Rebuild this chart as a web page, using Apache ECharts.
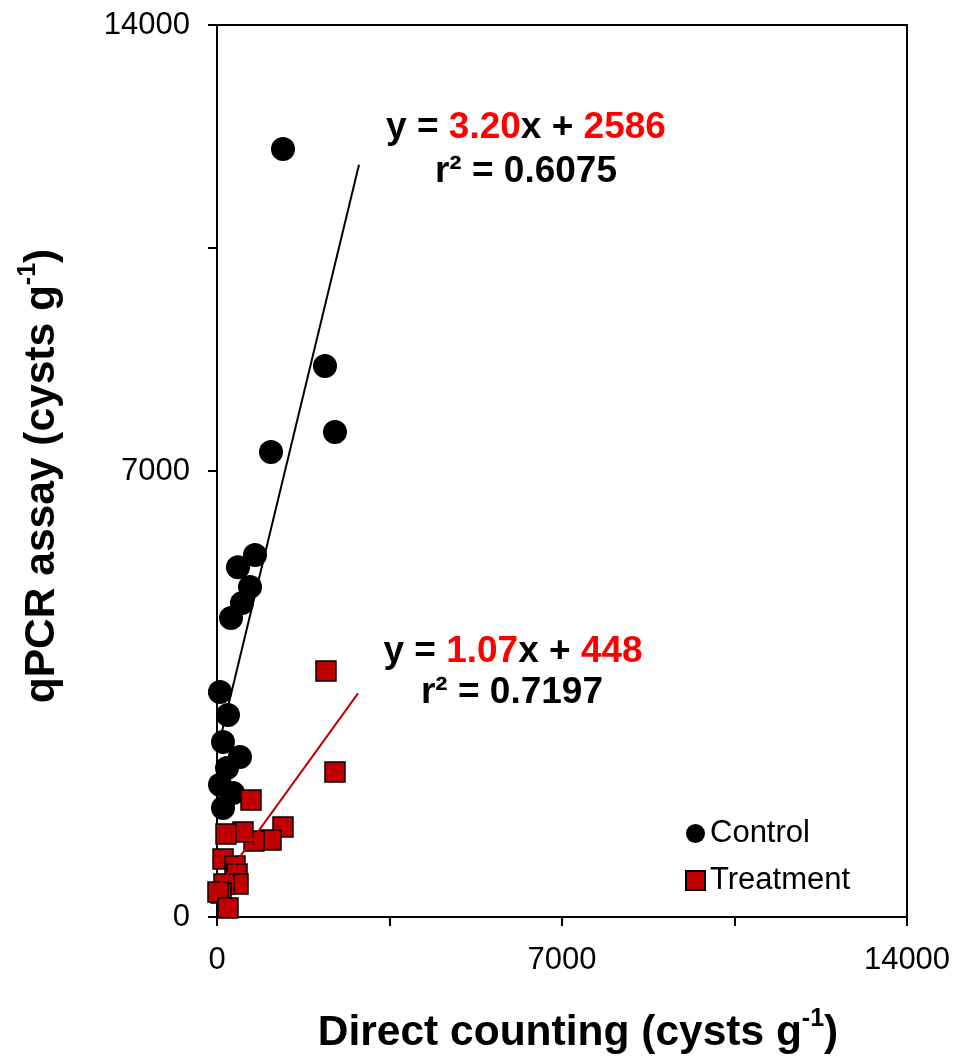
<!DOCTYPE html>
<html>
<head>
<meta charset="utf-8">
<script src="https://cdn.jsdelivr.net/npm/echarts@6/dist/echarts.min.js"></script>
<style>
html,body{margin:0;padding:0;background:#fff;}
#chart{width:964px;height:1060px;}
</style>
</head>
<body>
<div id="chart"></div>
<script>
// Control (circles): [direct counting, qPCR]
const controlX = [1339, 2191, 2394, 1096, 771, 426, 670, 507, 284, 61, 223, 122, 466, 203, 61, 325, 122];
const controlY = [12055, 8649, 7612, 7299, 5682, 5490, 5180, 4929, 4693, 3531, 3171, 2747, 2511, 2339, 2076, 1946, 1711];
// Treatment (squares)
const treatX = [2211, 2394, 690, 1339, 1096, 751, 527, 183, 122, 365, 406, 426, 142, 81, 20, 223];
const treatY = [3861, 2276, 1836, 1413, 1209, 1193, 1334, 1303, 910, 801, 675, 518, 518, 377, 392, 141];
// regression line endpoints
const controlFitX = [61, 2881];
const controlFitY = [2781, 11805];
const treatFitX = [20, 2861];
const treatFitY = [469, 3509];
// axis ticks
const axisMin = 0, axisMax = 14000, tickStep = 3500, labelStep = 7000;
const seriesNames = ['Control', 'Treatment'];

const FONT = 'Liberation Sans, Arial, sans-serif';
const chart = echarts.init(document.getElementById('chart'), null, {renderer: 'canvas'});

function pairs(xs, ys) { return xs.map((x, i) => [x, ys[i]]); }

const axisCommon = {
  type: 'value', min: axisMin, max: axisMax, interval: tickStep,
  splitLine: {show: false},
  axisLine: {show: true, onZero: false, lineStyle: {color: '#000', width: 2}},
  axisTick: {show: true, inside: false, length: 9, lineStyle: {color: '#000', width: 2}},
  axisLabel: {
    color: '#000', fontFamily: FONT, fontSize: 31,
    formatter: v => (v % labelStep === 0 ? String(v) : '')
  },
  nameLocation: 'middle'
};

const titleRich = {
  t: {fontFamily: FONT, fontSize: 42.5, fontWeight: 'bold', color: '#000', lineHeight: 48, verticalAlign: 'bottom'},
  s: {fontFamily: FONT, fontSize: 25, fontWeight: 'bold', color: '#000', lineHeight: 48, verticalAlign: 'top'}
};

const option = {
  backgroundColor: '#fff',
  animation: false,
  grid: {left: 217, right: 57, top: 25, bottom: 143, show: true, borderColor: '#000', borderWidth: 2,
         containLabel: false, outerBoundsMode: 'none'},
  xAxis: Object.assign({}, axisCommon, {
    axisLabel: Object.assign({}, axisCommon.axisLabel, {margin: 28}),
    name: '{t|Direct counting (cysts g}{s|-1}{t|)}',
    nameGap: 90,
    nameTextStyle: {padding: [0, 0, 0, 32], rich: titleRich}
  }),
  yAxis: Object.assign({}, axisCommon, {
    axisLabel: Object.assign({}, axisCommon.axisLabel, {margin: 27}),
    name: '{t|qPCR assay (cysts g}{s|-1}{t|)}',
    nameGap: 153,
    nameTextStyle: {padding: [0, 10, 0, 0], rich: titleRich}
  }),
  legend: {
    data: seriesNames,
    orient: 'vertical',
    left: 680, top: 813,
    itemWidth: 19, itemHeight: 19, itemGap: 16,
    textStyle: {fontFamily: FONT, fontSize: 31, color: '#000', padding: [0, 0, 0, 0]}
  },
  series: [
    {
      name: seriesNames[0], type: 'scatter', symbol: 'circle', symbolSize: 24,
      itemStyle: {color: '#000', opacity: 1}, data: pairs(controlX, controlY), z: 3
    },
    {
      name: seriesNames[1], type: 'scatter', symbol: 'rect', symbolSize: 20,
      itemStyle: {color: '#c00000', borderColor: '#000', borderWidth: 1.5, opacity: 1}, data: pairs(treatX, treatY), z: 4
    },
    {
      name: 'controlFit', type: 'line', showSymbol: false, symbol: 'none',
      lineStyle: {color: '#000', width: 2}, data: pairs(controlFitX, controlFitY), z: 5, silent: true
    },
    {
      name: 'treatFit', type: 'line', showSymbol: false, symbol: 'none',
      lineStyle: {color: '#c00000', width: 2}, data: pairs(treatFitX, treatFitY), z: 5, silent: true
    }
  ],
  graphic: [
    {type: 'text', x: 526, y: 128, z: 10, style: {
      text: '{k|y = }{r|3.20}{k|x + }{r|2586}', align: 'center', verticalAlign: 'middle',
      rich: {k: {fontFamily: FONT, fontSize: 37, fontWeight: 'bold', fill: '#000'}, r: {fontFamily: FONT, fontSize: 37, fontWeight: 'bold', fill: '#ff0000'}}
    }},
    {type: 'text', x: 526, y: 172, z: 10, style: {
      text: 'r² = 0.6075', align: 'center', verticalAlign: 'middle',
      fontFamily: FONT, fontSize: 37, fontWeight: 'bold', fill: '#000'
    }},
    {type: 'text', x: 513, y: 652, z: 10, style: {
      text: '{k|y = }{r|1.07}{k|x + }{r|448}', align: 'center', verticalAlign: 'middle',
      rich: {k: {fontFamily: FONT, fontSize: 37, fontWeight: 'bold', fill: '#000'}, r: {fontFamily: FONT, fontSize: 37, fontWeight: 'bold', fill: '#ff0000'}}
    }},
    {type: 'text', x: 512, y: 693, z: 10, style: {
      text: 'r² = 0.7197', align: 'center', verticalAlign: 'middle',
      fontFamily: FONT, fontSize: 37, fontWeight: 'bold', fill: '#000'
    }}
  ]
};
chart.setOption(option);
</script>
</body>
</html>
